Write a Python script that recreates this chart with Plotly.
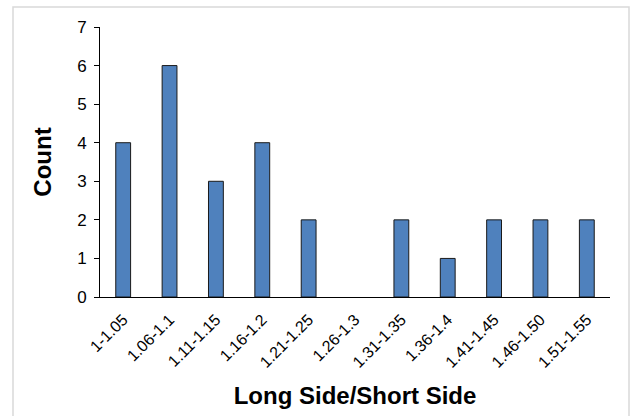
import plotly.graph_objects as go

categories = ["1-1.05", "1.06-1.1", "1.11-1.15", "1.16-1.2", "1.21-1.25", "1.26-1.3",
              "1.31-1.35", "1.36-1.4", "1.41-1.45", "1.46-1.50", "1.51-1.55"]
counts = [4, 6, 3, 4, 2, 0, 2, 1, 2, 2, 2]
y_ticks = [0, 1, 2, 3, 4, 5, 6, 7]

FONT = "Arial, Liberation Sans, sans-serif"
L, R, T, B = 100, 21, 27, 119
PW, PH = 631 - L - R, 416 - T - B

fig = go.Figure(go.Bar(
    x=categories, y=counts,
    marker=dict(color="#4F81BD",
                line=dict(color="#1a1a1a", width=[1 if c > 0 else 0 for c in counts])),
))

fig.update_layout(
    width=631, height=416,
    margin=dict(l=L, r=R, t=T, b=B, autoexpand=False),
    paper_bgcolor="white", plot_bgcolor="white",
    bargap=0.68,
    showlegend=False,
    font=dict(family=FONT, color="#000000"),
    xaxis=dict(
        type="category",
        showline=True, linecolor="#000000", linewidth=1,
        showgrid=False, ticks="", tickangle=-45,
        ticklabelstandoff=6,
        tickfont=dict(size=16, family=FONT, color="#000000"),
        title=dict(text="<b>Long Side/Short Side</b>", font=dict(size=24, family=FONT), standoff=17),
        automargin=False,
    ),
    yaxis=dict(
        range=[0, 7], tickvals=y_ticks,
        showline=True, linecolor="#000000", linewidth=1,
        showgrid=False, zeroline=False,
        ticks="outside", ticklen=5, tickcolor="#000000",
        ticklabelstandoff=4,
        tickfont=dict(size=17, family=FONT, color="#000000"),
        title=dict(text="<b>Count</b>", font=dict(size=24, family=FONT), standoff=18),
        automargin=False,
    ),
    shapes=[dict(type="rect", xref="paper", yref="paper",
                 x0=(13 - L) / PW, x1=(629 - L) / PW,
                 y0=-0.45, y1=1 + (T - 7) / PH,
                 line=dict(color="#d9d9d9", width=1.5), layer="below")],
)

fig.write_html("out.html", config={"displayModeBar": False},
               post_script="document.body.style.margin='0';")
